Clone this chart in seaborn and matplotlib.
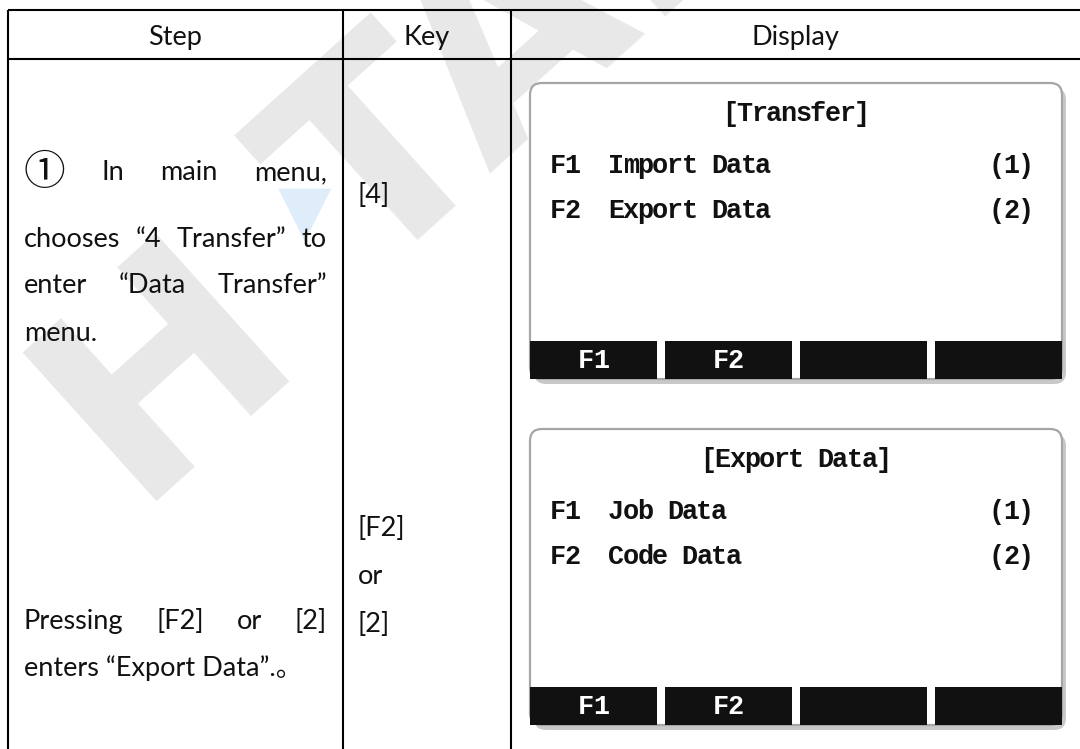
import matplotlib
matplotlib.use("Agg")
import matplotlib.pyplot as plt
import seaborn as sns
import numpy as np
import pandas as pd
from matplotlib.patches import FancyBboxPatch, Rectangle

# ---------------- content ----------------
header_labels = ["Step", "Key", "Display"]
step1_lines = ["① In main menu,", "chooses “4 Transfer” to", "enter “Data Transfer”", "menu."]
step1_justify = [True, True, True, False]
step2_lines = ["Pressing [F2] or [2]", "enters “Export Data”.。"]
step2_justify = [True, False]
key1_lines = ["[4]"]
key2_lines = ["[F2]", "or", "[2]"]
screen1_title = "[Transfer]"
screen1_codes = ["F1", "F2"]
screen1_items = ["Import Data", "Export Data"]
screen1_nums = ["(1)", "(2)"]
screen2_title = "[Export Data]"
screen2_codes = ["F1", "F2"]
screen2_items = ["Job Data", "Code Data"]
screen2_nums = ["(1)", "(2)"]
softkeys = ["F1", "F2", "", ""]
watermark_head = "H"
watermark_mark = "▼"
watermark_tail = "TARGET"

# ---------------- style ----------------
sns.set_theme(style="white")
BODY_FAMILY = ["Lato", "Noto Sans CJK SC", "DejaVu Sans"]
plt.rcParams["font.family"] = BODY_FAMILY
BODY = dict(fontsize=19.5, color="#111111", family=BODY_FAMILY)
CIRCLE = dict(fontsize=30, color="#111111", family=["Noto Sans CJK SC", "DejaVu Sans"])
MONO_SIZE = 19.4
MONO = dict(fontsize=MONO_SIZE, family=["Liberation Mono", "DejaVu Sans Mono"], fontweight="bold")
ADV = 14.7                                  # character cell of the screen font (px)
CAP = 0.571 * MONO_SIZE / 0.72              # cap height in px
WM = dict(fontsize=197, fontweight="bold", color="#e8e8e8", family="DejaVu Sans",
          rotation=42, rotation_mode="anchor", va="baseline", zorder=0)

W, H = 1080, 749
fig = plt.figure(figsize=(W / 100, H / 100), dpi=100)
ax = fig.add_axes([0, 0, 1, 1])
ax.set_xlim(0, W)
ax.set_ylim(H, 0)
ax.axis("off")
renderer = fig.canvas.get_renderer()

# layout
X_L, X_C1, X_C2, X_R = 8, 343, 511, 1080
Y_T, Y_HB = 10, 59

# ---------------- watermark ----------------
ax.text(217, 424, watermark_head, ha="center", **WM)
ax.text(367, 284, watermark_tail, ha="left", **WM)
ax.text(305, 213, watermark_mark, ha="center", va="center", fontsize=50,
        color="#deedf9", family="DejaVu Sans", zorder=0.5)

# ---------------- table grid ----------------
lw = 1.5
ax.plot([X_L, X_R], [Y_T, Y_T], color="black", lw=lw, solid_capstyle="butt", zorder=5)
ax.plot([X_L, X_R], [Y_HB, Y_HB], color="black", lw=lw, solid_capstyle="butt", zorder=5)
for xv in (X_L, X_C1, X_C2):
    ax.plot([xv, xv], [Y_T, H], color="black", lw=lw, solid_capstyle="butt", zorder=5)

for lab, (a, b) in zip(header_labels, [(X_L, X_C1), (X_C1, X_C2), (X_C2, X_R)]):
    ax.text((a + b) / 2, 45, lab, ha="center", va="baseline", zorder=6, **BODY)


def draw_line(text, x0, x1, y, justify):
    if not justify:
        ax.text(x0, y, text, ha="left", va="baseline", zorder=6, **BODY)
        return
    words = text.split(" ")
    objs = []
    for w in words:
        if w == "①":
            objs.append(ax.text(0, y + 5, w, ha="left", va="baseline", zorder=6, **CIRCLE))
        else:
            objs.append(ax.text(0, y, w, ha="left", va="baseline", zorder=6, **BODY))
    widths = [o.get_window_extent(renderer).width for o in objs]
    gap = (x1 - x0 - sum(widths)) / (len(words) - 1)
    x = x0
    for o, wd in zip(objs, widths):
        o.set_x(x)
        x += wd + gap


TX0, TX1 = 24, 327
for txt, j, yb in zip(step1_lines, step1_justify, [180, 247, 293, 341]):
    draw_line(txt, TX0, TX1, yb, j)
for txt, j, yb in zip(step2_lines, step2_justify, [629, 676]):
    draw_line(txt, TX0, TX1, yb, j)

KX = 358
for txt, yb in zip(key1_lines, [203]):
    ax.text(KX, yb, txt, ha="left", va="baseline", zorder=6, **BODY)
for txt, yb in zip(key2_lines, [536, 584, 632]):
    ax.text(KX, yb, txt, ha="left", va="baseline", zorder=6, **BODY)


# ---------------- screens ----------------
def mono_text(x0, y, s, color="#111111"):
    for i, ch in enumerate(s):
        if ch != " ":
            ax.text(x0 + (i + 0.5) * ADV, y, ch, ha="center", va="baseline",
                    color=color, zorder=6, **MONO)


SL, SR = 530, 1062
GAP = 8


def draw_screen(top, title, codes, items, nums):
    key_top = top + 258
    bottom = top + 296
    ax.add_patch(FancyBboxPatch((SL + 4, top + 5), SR - SL, bottom - top,
                                boxstyle="round,pad=0,rounding_size=12",
                                fc="#c8c8c8", ec="none", zorder=2))
    ax.add_patch(FancyBboxPatch((SL, top), SR - SL, bottom - top,
                                boxstyle="round,pad=0,rounding_size=12",
                                fc="white", ec="#a6a6a6", lw=1.6, zorder=3))
    cx = (SL + SR) / 2
    mono_text(cx - len(title) * ADV / 2, top + 30 + CAP / 2, title)
    for i, (c, it, n) in enumerate(zip(codes, items, nums)):
        yc = top + 82 + 45 * i
        mono_text(SL + 20, yc + CAP / 2, f"{c}  {it}")
        mono_text(SR - 29 - len(n) * ADV, yc + CAP / 2, n)
    kw = (SR - SL - 3 * GAP) / len(softkeys)
    for k, lab in enumerate(softkeys):
        x0 = SL + k * (kw + GAP)
        ax.add_patch(Rectangle((x0, key_top), kw, bottom - key_top, fc="#111111", ec="none", zorder=4))
        if lab:
            mono_text(x0 + kw / 2 - len(lab) * ADV / 2, key_top + 19 + CAP / 2, lab, color="white")


draw_screen(83, screen1_title, screen1_codes, screen1_items, screen1_nums)
draw_screen(429, screen2_title, screen2_codes, screen2_items, screen2_nums)

fig.savefig("out.png", dpi=100, facecolor="white")
